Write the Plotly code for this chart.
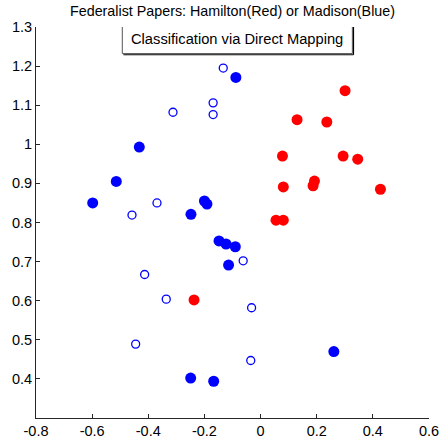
import plotly.graph_objects as go

# Papers known to be by Hamilton (filled red)
hamilton_x = [0.301, 0.130, 0.236, 0.078, 0.294, 0.346, 0.081, 0.192, 0.187, 0.427, 0.055, 0.081, -0.237]
hamilton_y = [1.137, 1.063, 1.057, 0.970, 0.970, 0.962, 0.891, 0.906, 0.894, 0.885, 0.806, 0.806, 0.602]

# Papers known to be by Madison (filled blue)
madison_x = [-0.088, -0.432, -0.514, -0.598, -0.248, -0.200, -0.191, -0.148, -0.123, -0.090, -0.114, 0.261, -0.249, -0.167]
madison_y = [1.171, 0.993, 0.905, 0.850, 0.821, 0.855, 0.847, 0.753, 0.745, 0.738, 0.691, 0.470, 0.402, 0.394]

# Disputed papers (open blue)
disputed_x = [-0.133, -0.312, -0.169, -0.169, -0.369, -0.458, -0.413, -0.336, -0.445, -0.032, -0.035, -0.062]
disputed_y = [1.195, 1.082, 1.106, 1.076, 0.850, 0.819, 0.667, 0.604, 0.489, 0.582, 0.447, 0.702]

x_ticks = [-0.8, -0.6, -0.4, -0.2, 0, 0.2, 0.4, 0.6]
x_labels = ["-0.8", "-0.6", "-0.4", "-0.2", "0", "0.2", "0.4", "0.6"]
y_ticks = [0.4, 0.5, 0.6, 0.7, 0.8, 0.9, 1.0, 1.1, 1.2, 1.3]
y_labels = ["0.4", "0.5", "0.6", "0.7", "0.8", "0.9", "1", "1.1", "1.2", "1.3"]

title_text = "Federalist Papers: Hamilton(Red) or Madison(Blue)"
box_text = "Classification via Direct Mapping"

FONT = "Liberation Sans, Arial, sans-serif"

fig = go.Figure()
fig.add_trace(go.Scatter(
    x=disputed_x, y=disputed_y, mode="markers",
    marker=dict(symbol="circle-open", size=8, color="#0000ff", line=dict(width=1.3)),
    showlegend=False, hoverinfo="skip"))
fig.add_trace(go.Scatter(
    x=madison_x, y=madison_y, mode="markers",
    marker=dict(symbol="circle", size=11, color="#0000ff", line=dict(width=0)),
    showlegend=False, hoverinfo="skip"))
fig.add_trace(go.Scatter(
    x=hamilton_x, y=hamilton_y, mode="markers",
    marker=dict(symbol="circle", size=11, color="#ff0000", line=dict(width=0)),
    showlegend=False, hoverinfo="skip"))

axis_common = dict(
    showgrid=False, zeroline=False, showline=True, linecolor="#262626", linewidth=1,
    ticks="inside", ticklen=4, tickcolor="#262626", tickwidth=1,
    tickfont=dict(family=FONT, size=14.5, color="#000000"),
    mirror=False, automargin=False, ticklabeloverflow="allow",
)
fig.update_xaxes(range=[-0.8, 0.6], tickvals=x_ticks, ticktext=x_labels, **axis_common)
fig.update_yaxes(range=[0.3, 1.3], tickvals=y_ticks, ticktext=y_labels, **axis_common)

# Label box with a slight drop shadow on its right and bottom edges
bx0, bx1, by0, by1 = -0.4926, 0.327, 1.232, 1.3087
fig.add_shape(type="line", x0=bx1 + 0.004, x1=bx1 + 0.004, y0=by0 - 0.003, y1=by1 - 0.003,
              line=dict(color="#000000", width=1.2), layer="above")
fig.add_shape(type="line", x0=bx0 + 0.004, x1=bx1 + 0.004, y0=by0 - 0.003, y1=by0 - 0.003,
              line=dict(color="#000000", width=1.2), layer="above")
fig.add_shape(type="rect", x0=bx0, x1=bx1, y0=by0, y1=by1,
              line=dict(color="#555555", width=1), fillcolor="#ffffff", layer="above")
fig.add_annotation(x=(bx0 + bx1) / 2, y=(by0 + by1) / 2, xref="x", yref="y",
                   text=box_text, showarrow=False, yanchor="middle",
                   font=dict(family=FONT, size=14.7, color="#000000"))

fig.add_annotation(x=0.5, y=1.0, xref="paper", yref="paper", yshift=16,
                   text=title_text, showarrow=False, yanchor="middle", xanchor="center",
                   font=dict(family=FONT, size=14.3, color="#000000"))

fig.update_layout(
    width=439, height=442,
    margin=dict(l=36, r=10, t=27, b=24, pad=0),
    paper_bgcolor="#ffffff", plot_bgcolor="#ffffff",
)

fig.write_html("out.html")
